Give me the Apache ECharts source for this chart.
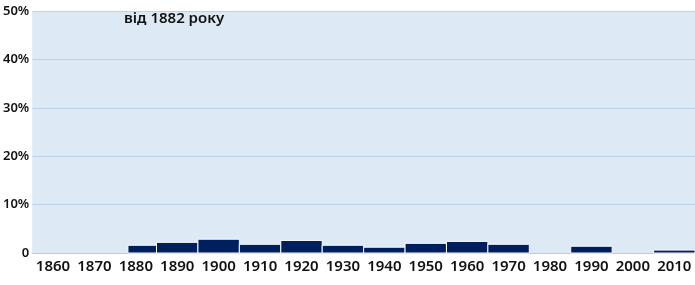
<!DOCTYPE html>
<html>
<head>
<meta charset="utf-8">
<script src="https://cdn.jsdelivr.net/npm/echarts@6/dist/echarts.min.js"></script>
<style>html,body{margin:0;padding:0;background:#fff}#c{width:695px;height:285px}</style>
</head>
<body>
<div id="c"></div>
<script>
const categories = ['1860','1870','1880','1890','1900','1910','1920','1930','1940','1950','1960','1970','1980','1990','2000','2010'];
const values = [0,0,1.6,2.2,2.85,1.8,2.6,1.6,1.2,2.0,2.4,1.8,0,1.4,0,0.6];
// fraction of the decade slot that is not covered at the start (data begins in 1882)
const startFrac = [0,0,0.31,0,0,0,0,0,0,0,0,0,0,0,0,0];
const yTicks = [0,10,20,30,40,50];
const note = 'від 1882 року';

const chart = echarts.init(document.getElementById('c'));
const data = values.map((v,i)=>[i,v,startFrac[i]]).filter(d=>d[1]>0);
chart.setOption({
  animation:false,
  grid:{left:30,right:0,top:11,bottom:32,show:true,backgroundColor:'#dde9f5',borderWidth:0},
  xAxis:{type:'category',data:categories,boundaryGap:true,
    axisLine:{show:true,lineStyle:{color:'#c8c8c8',width:1}},
    axisTick:{show:false},
    axisLabel:{interval:0,hideOverlap:false,color:'#111',fontFamily:'Noto Sans',fontSize:15,fontWeight:600,margin:6}},
  yAxis:{type:'value',min:0,max:50,interval:10,
    axisLine:{show:false},axisTick:{show:false},
    splitLine:{lineStyle:{color:'#bad3ec',width:1}},
    axisLabel:{color:'#111',fontFamily:'Noto Sans',fontSize:13,fontWeight:600,margin:3,
      formatter:v=> yTicks.indexOf(v)>=0 ? (v===0?'0':v+'%') : ''}},
  series:[{
    type:'custom',
    data:data,
    renderItem:function(params,api){
      const top = api.coord([api.value(0),api.value(1)]);
      const base = api.coord([api.value(0),0]);
      const w = api.size([1,0])[0];
      const x0 = base[0]-w/2 + api.value(2)*w;
      const x1 = base[0]+w/2;
      return {type:'rect',shape:{x:x0,y:top[1],width:x1-x0,height:base[1]-top[1]},
        style:{fill:'#001f5f',stroke:'#ffffff',lineWidth:1}};
    }
  }],
  graphic:[{type:'text',left:124,top:11,style:{text:note,fontFamily:'Noto Sans',fontSize:15,fontWeight:600,fill:'#111'}}]
});
</script>
</body>
</html>
